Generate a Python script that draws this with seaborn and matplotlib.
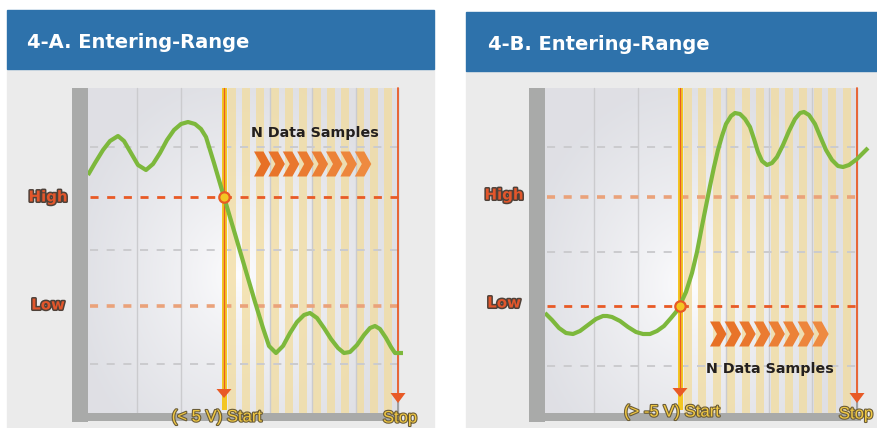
import numpy as np
import pandas as pd
import matplotlib
matplotlib.use("Agg")
import matplotlib.pyplot as plt
import matplotlib.patheffects as pe
from matplotlib.patches import Rectangle, Polygon
import seaborn as sns

# ---------------- data (pixel units) ----------------
titles = ["4-A. Entering-Range", "4-B. Entering-Range"]
start_labels = ["(< 5 V) Start", "(> -5 V) Start"]
stop_label = "Stop"
level_labels = ["High", "Low"]
samples_label = "N Data Samples"
n_chevrons = 8
n_stripes = 12

wave_a_x = [88, 95, 103, 110, 118, 124, 131, 138, 146, 153, 160, 167, 174, 181, 188,
            195, 201, 206, 210, 214, 219, 224, 235, 245, 255, 263, 269, 276, 283, 290,
            297, 304, 310, 317, 324, 331, 338, 344, 350, 357, 364, 370, 375, 380, 386,
            391, 395, 403]
wave_a_y = [175, 163, 150, 141, 136, 141, 153, 165, 170, 164, 153, 140, 130, 124, 122,
            124, 129, 137, 150, 163, 180, 197, 234, 268, 302, 328, 346, 353, 346, 333,
            322, 315, 313, 318, 328, 339, 348, 353, 352, 345, 335, 328, 326, 329, 338,
            347, 353, 353]

wave_b_x = [545, 552, 559, 566, 573, 580, 588, 596, 603, 607, 612, 620, 628, 636, 643,
            650, 657, 664, 671, 676, 680, 686, 692, 697, 702, 706, 710, 714, 718, 722,
            726, 731, 735, 740, 745, 750, 754, 758, 762, 767, 772, 777, 783, 789, 795,
            800, 804, 809, 815, 820, 826, 832, 838, 843, 849, 857, 862, 868]
wave_b_y = [313, 320, 328, 333, 334, 331, 325, 319, 316, 316, 317, 321, 327, 332, 334,
            334, 331, 326, 318, 312, 305, 292, 273, 252, 226, 206, 186, 167, 150, 136,
            124, 116, 113, 114, 119, 127, 139, 152, 161, 165, 163, 157, 145, 131, 119,
            113, 112, 115, 124, 136, 150, 160, 166, 167, 165, 159, 154, 148]

high_level = [197, 197]
low_level = [306, 306]
crossings = [(224, 197), (680, 306)]

# ---------------- layout ----------------
panels = [
    dict(x0=7, x1=434, hy0=10, hy1=69, px0=88, px1=400, bar0=72,
         vgrid=[137, 181, 270, 312, 356], hgrid=[147, 250, 364],
         start=224, stop=398, trig="high", chev_x=254, chev_pitch=14.4, chev_y=164, chev_h=12.5,
         samples=(315, 137), glow=(238, 275), title=(27, 48),
         high_lab=(48, 197), low_lab=(48, 305), start_lab=(217, 417), stop_lab=(400, 418),
         wave=(wave_a_x, wave_a_y), start_arrow=398),
    dict(x0=466, x1=880, hy0=12, hy1=71, px0=545, px1=859, bar0=529,
         vgrid=[594, 638, 726, 769, 812], hgrid=[147, 252, 366],
         start=680, stop=857, trig="low", chev_x=710, chev_pitch=14.6, chev_y=334, chev_h=12.5,
         samples=(770, 373), glow=(690, 285), title=(488, 50),
         high_lab=(504, 195), low_lab=(504, 303), start_lab=(672, 412), stop_lab=(856, 414),
         wave=(wave_b_x, wave_b_y), start_arrow=397),
]

sns.set_theme(style="white")
plt.rcParams["font.family"] = ["DejaVu Sans"]
plt.rcParams["lines.scale_dashes"] = False

W, H = 877, 428
fig = plt.figure(figsize=(W / 100, H / 100), dpi=100)
ax = fig.add_axes([0, 0, 1, 1])

BLUE = "#2e72ab"
PANEL = "#ebebeb"
ORANGE = "#e85a26"
PEACH = "#eaa27a"
YELLOW = "#f3c623"
GREEN = "#7db83c"
GRID = "#cbcbce"
BAR = "#a9aaa9"
DASH = (0, (5.8, 6.2))

py0, py1 = 88, 413

for i, p in enumerate(panels):
    # panel + header
    ax.add_patch(Rectangle((p["x0"], p["hy1"]), p["x1"] - p["x0"], H - p["hy1"] + 5,
                           color=PANEL, zorder=0))
    ax.add_patch(Rectangle((p["x0"], p["hy0"]), p["x1"] - p["x0"], p["hy1"] - p["hy0"],
                           color=BLUE, zorder=1))
    ax.text(p["title"][0], p["title"][1], titles[i], color="white", fontsize=14,
            fontweight="bold", ha="left", va="baseline", zorder=2)

    # glowing plot background
    nx, ny = 160, 160
    xs = np.linspace(p["px0"], p["px1"], nx)
    ys = np.linspace(py0, py1, ny)
    X, Y = np.meshgrid(xs, ys)
    d = np.sqrt(((X - p["glow"][0]) / 165.0) ** 2 + ((Y - p["glow"][1]) / 200.0) ** 2)
    t = np.clip(d, 0, 1) ** 0.75
    edge = np.array([0.875, 0.878, 0.898])
    img = (1 - t)[..., None] * np.array([0.995, 0.995, 1.0]) + t[..., None] * edge
    ax.imshow(img, extent=(p["px0"], p["px1"], py1, py0), origin="upper",
              interpolation="bilinear", zorder=1)

    # sampling stripes
    s0 = p["start"] + 4
    pitch = (p["stop"] - s0) / n_stripes
    for k in range(n_stripes):
        ax.add_patch(Rectangle((s0 + k * pitch, py0), 8, py1 - py0,
                               color="#f2dc9e", alpha=0.75, lw=0, zorder=2))

    # vertical grid
    for gx in p["vgrid"]:
        ax.plot([gx, gx], [py0, py1], color=GRID, lw=1.0, zorder=3)
    # horizontal dashed grid
    for gy in p["hgrid"]:
        ax.plot([p["px0"] + 2, p["stop"] + 4], [gy, gy], color=GRID, lw=1.4,
                ls=DASH, zorder=3)
    hi_col, hi_lw = (ORANGE, 2.0) if p["trig"] == "high" else (PEACH, 2.6)
    lo_col, lo_lw = (ORANGE, 2.0) if p["trig"] == "low" else (PEACH, 2.6)
    ax.plot([p["px0"] + 2, p["stop"]], high_level, color=hi_col, lw=hi_lw, ls=DASH, zorder=4)
    ax.plot([p["px0"] + 2, p["stop"]], low_level, color=lo_col, lw=lo_lw, ls=DASH, zorder=4)

    # start line
    ax.add_patch(Rectangle((p["start"] - 2, py0), 4.5, py1 - py0 - 3, color=YELLOW, lw=0, zorder=5))
    ax.plot([p["start"], p["start"]], [py0, p["start_arrow"] - 6], color=ORANGE, lw=0.9, zorder=6)
    sa = p["start_arrow"]
    ax.add_patch(Polygon([[p["start"] - 7.5, sa - 9], [p["start"] + 7.5, sa - 9], [p["start"], sa]],
                         closed=True, color=ORANGE, lw=0, zorder=7))
    # stop line
    ax.plot([p["stop"], p["stop"]], [py0, 400], color=ORANGE, lw=1.3, zorder=5)
    ax.plot([p["stop"], p["stop"]], [400, py1], color="#9a9a9a", lw=1.3, zorder=5)
    ax.add_patch(Polygon([[p["stop"] - 7.5, 393], [p["stop"] + 7.5, 393], [p["stop"], 403]],
                         closed=True, color=ORANGE, lw=0, zorder=7))

    # waveform
    wx, wy = p["wave"]
    sns.lineplot(x=wx, y=wy, ax=ax, color=GREEN, lw=3.0, sort=False, estimator=None,
                 zorder=8, solid_capstyle="butt")
    # trigger crossing marker
    cx, cy = crossings[i]
    ax.plot([cx], [cy], marker="o", ms=7.5, mfc=YELLOW, mec=ORANGE, mew=1.6, zorder=9)

    # chevrons
    for k in range(n_chevrons):
        x0 = p["chev_x"] + k * p["chev_pitch"]
        yc, h = p["chev_y"], p["chev_h"]
        w, th = 16.5, 9.5
        frac = k / (n_chevrons - 1)
        col = (0.905 + 0.03 * frac, 0.44 + 0.10 * frac, 0.15 + 0.10 * frac)
        ax.add_patch(Polygon([[x0, yc - h], [x0 + th, yc - h], [x0 + w, yc],
                              [x0 + th, yc + h], [x0, yc + h], [x0 + w - th, yc]],
                             closed=True, color=col, lw=0, zorder=9))
    ax.text(p["samples"][0], p["samples"][1], samples_label, fontsize=10.3, fontweight="bold",
            color="#231f1e", ha="center", va="baseline", zorder=10)

    # axis bars
    ax.add_patch(Rectangle((p["bar0"], py0), p["px0"] - p["bar0"], 422 - py0, color=BAR, lw=0, zorder=11))
    ax.add_patch(Rectangle((p["bar0"], py1), p["stop"] + 4 - p["bar0"], 8, color=BAR, lw=0, zorder=11))

    # level labels
    lab_fx = [pe.Stroke(linewidth=2.2, foreground="#4e4139"), pe.Normal()]
    for lab, pos in zip(level_labels, [p["high_lab"], p["low_lab"]]):
        ax.text(pos[0], pos[1], lab, fontsize=10.8, fontweight="bold", color="#e2562b",
                ha="center", va="center", zorder=12, path_effects=lab_fx)
    # start / stop labels
    st_fx = [pe.Stroke(linewidth=1.6, foreground="#6a5c38"), pe.Normal()]
    ax.text(p["start_lab"][0], p["start_lab"][1], start_labels[i], fontsize=12,
            family=["Liberation Sans", "DejaVu Sans"], color="#f2c943",
            ha="center", va="center", zorder=12, path_effects=st_fx)
    ax.text(p["stop_lab"][0], p["stop_lab"][1], stop_label, fontsize=12,
            family=["Liberation Sans", "DejaVu Sans"], color="#f2c943",
            ha="center", va="center", zorder=12, path_effects=st_fx)

ax.set_xlim(0, W)
ax.set_ylim(H, 0)
ax.set_aspect("auto")
ax.axis("off")
fig.savefig("out.png", dpi=100, facecolor="white")
